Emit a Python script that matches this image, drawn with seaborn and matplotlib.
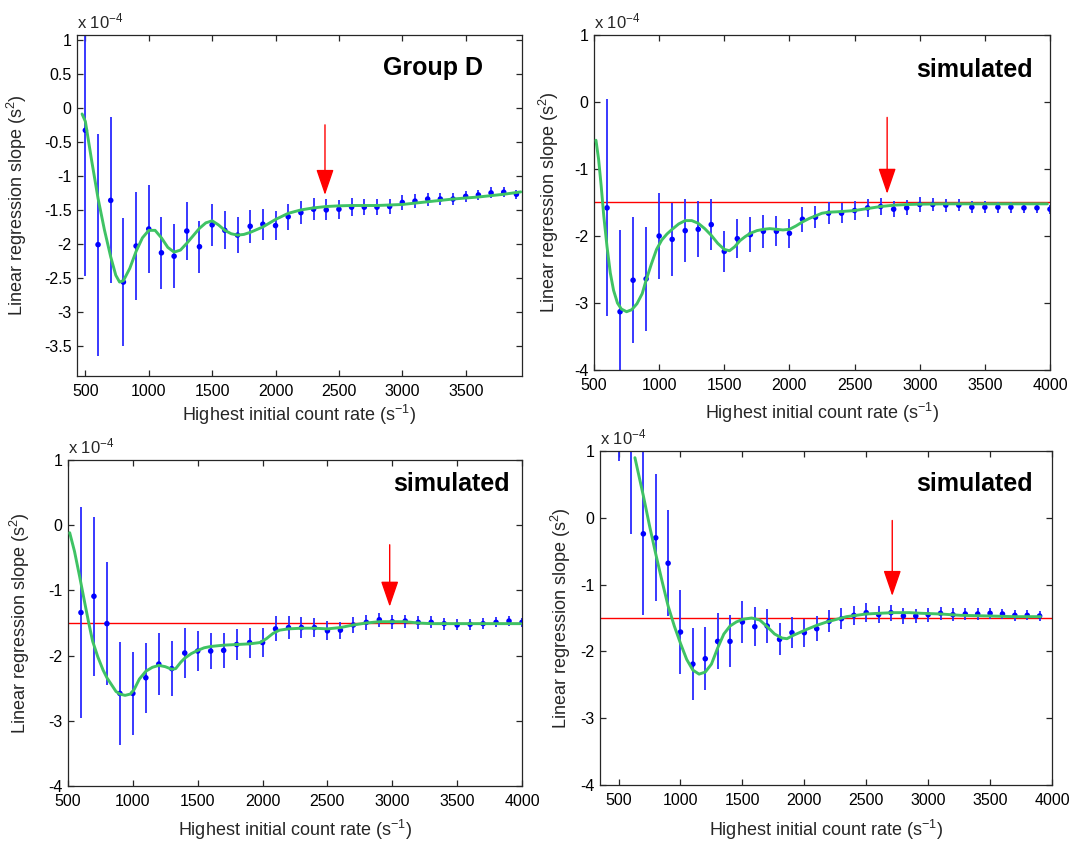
import matplotlib
matplotlib.use("Agg")
import matplotlib.pyplot as plt
from matplotlib.ticker import FuncFormatter
import seaborn as sns

# ---------------------------------------------------------------- data
# Group D (measured)
rate_a = [500, 600, 700, 800, 900, 1000, 1100, 1200, 1300, 1400,
          1500, 1600, 1700, 1800, 1900, 2000, 2100, 2200, 2300, 2400,
          2500, 2600, 2700, 2800, 2900, 3000, 3100, 3200, 3300, 3400,
          3500, 3600, 3700, 3800, 3900]
slope_a = [-0.33, -2.01, -1.36, -2.56, -2.03, -1.78, -2.13, -2.18, -1.81, -2.04,
           -1.72, -1.80, -1.87, -1.74, -1.71, -1.73, -1.60, -1.54, -1.49, -1.50,
           -1.49, -1.46, -1.46, -1.46, -1.45, -1.39, -1.37, -1.34, -1.34, -1.34,
           -1.30, -1.28, -1.25, -1.24, -1.27]
err_a = [2.14, 1.63, 1.22, 0.94, 0.79, 0.64, 0.53, 0.47, 0.42, 0.38,
         0.31, 0.28, 0.26, 0.245, 0.225, 0.215, 0.19, 0.17, 0.16, 0.155,
         0.14, 0.13, 0.12, 0.115, 0.11, 0.105, 0.10, 0.095, 0.09, 0.09,
         0.085, 0.08, 0.08, 0.075, 0.07]
fit_rate_a = [474, 500, 550, 600, 650, 700, 740, 770, 800, 850, 900, 950, 1000,
              1050, 1100, 1150, 1200, 1250, 1300, 1350, 1400, 1450, 1500, 1550,
              1600, 1650, 1700, 1750, 1800, 1850, 1900, 2000, 2100, 2200, 2300,
              2400, 2500, 2600, 2800, 3000, 3200, 3400, 3600, 3800, 3935]
fit_slope_a = [-0.09, -0.20, -0.78, -1.33, -1.79, -2.19, -2.46, -2.56, -2.54,
               -2.36, -2.11, -1.91, -1.80, -1.80, -1.91, -2.05, -2.12, -2.09,
               -1.99, -1.88, -1.77, -1.69, -1.66, -1.72, -1.80, -1.85, -1.87,
               -1.86, -1.83, -1.79, -1.75, -1.64, -1.55, -1.50, -1.47, -1.45,
               -1.44, -1.435, -1.435, -1.42, -1.38, -1.34, -1.31, -1.27, -1.235]

# simulated, top right
rate_b = [600, 700, 800, 900, 1000, 1100, 1200, 1300, 1400, 1500,
          1600, 1700, 1800, 1900, 2000, 2100, 2200, 2300, 2400, 2500,
          2600, 2700, 2800, 2900, 3000, 3100, 3200, 3300, 3400, 3500,
          3600, 3700, 3800, 3900, 4000]
slope_b = [-1.58, -3.13, -2.66, -2.64, -2.00, -2.05, -1.92, -1.90, -1.83, -2.23,
           -2.04, -1.98, -1.93, -1.93, -1.96, -1.75, -1.72, -1.66, -1.66, -1.62,
           -1.58, -1.56, -1.60, -1.58, -1.53, -1.53, -1.54, -1.54, -1.57, -1.57,
           -1.57, -1.57, -1.58, -1.58, -1.60]
err_b = [1.62, 1.22, 0.94, 0.78, 0.64, 0.54, 0.47, 0.42, 0.38, 0.31,
         0.29, 0.26, 0.245, 0.225, 0.215, 0.19, 0.165, 0.16, 0.15, 0.14,
         0.13, 0.12, 0.115, 0.11, 0.105, 0.10, 0.095, 0.09, 0.09, 0.085,
         0.08, 0.08, 0.075, 0.07, 0.07]
fit_rate_b = [515, 535, 555, 575, 600, 625, 650, 680, 710, 750, 790, 830, 870,
              900, 940, 980, 1020, 1060, 1100, 1150, 1200, 1250, 1300, 1350,
              1400, 1450, 1500, 1540, 1580, 1620, 1660, 1700, 1750, 1800, 1850,
              1900, 1950, 2000, 2050, 2100, 2150, 2200, 2250, 2300, 2400, 2500,
              2600, 2700, 2800, 2900, 3000, 3200, 3500, 3980]
fit_slope_b = [-0.57, -0.85, -1.25, -1.70, -2.16, -2.55, -2.81, -3.00, -3.09,
               -3.13, -3.10, -3.01, -2.86, -2.66, -2.42, -2.20, -2.06, -1.97,
               -1.90, -1.82, -1.77, -1.77, -1.81, -1.89, -1.99, -2.11, -2.20,
               -2.22, -2.16, -2.07, -2.01, -1.96, -1.92, -1.90, -1.89, -1.90,
               -1.91, -1.90, -1.85, -1.79, -1.74, -1.70, -1.66, -1.645, -1.635,
               -1.62, -1.59, -1.56, -1.54, -1.53, -1.525, -1.52, -1.52, -1.52]

# simulated, bottom left
rate_c = [600, 700, 800, 900, 1000, 1100, 1200, 1300, 1400, 1500,
          1600, 1700, 1800, 1900, 2000, 2100, 2200, 2300, 2400, 2500,
          2600, 2700, 2800, 2900, 3000, 3100, 3200, 3300, 3400, 3500,
          3600, 3700, 3800, 3900, 4000]
slope_c = [-1.34, -1.09, -1.51, -2.58, -2.58, -2.34, -2.13, -2.20, -1.96, -1.93,
           -1.93, -1.92, -1.83, -1.80, -1.80, -1.59, -1.57, -1.57, -1.57, -1.62,
           -1.61, -1.53, -1.49, -1.45, -1.48, -1.47, -1.49, -1.49, -1.51, -1.53,
           -1.52, -1.51, -1.49, -1.47, -1.49]
err_c = [1.62, 1.22, 0.94, 0.79, 0.64, 0.54, 0.48, 0.42, 0.38, 0.31,
         0.28, 0.27, 0.24, 0.23, 0.22, 0.19, 0.17, 0.16, 0.15, 0.145,
         0.13, 0.12, 0.115, 0.11, 0.105, 0.10, 0.095, 0.09, 0.09, 0.085,
         0.08, 0.08, 0.075, 0.07, 0.07]
fit_rate_c = [513, 550, 590, 630, 660, 690, 730, 770, 800, 840, 870, 900, 940,
              980, 1010, 1050, 1100, 1150, 1200, 1250, 1300, 1330, 1370, 1400,
              1450, 1500, 1550, 1600, 1700, 1800, 1900, 1980, 2030, 2080, 2130,
              2200, 2300, 2400, 2500, 2600, 2700, 2800, 2900, 3000, 3100, 3200,
              3300, 3500, 3700, 3990]
fit_slope_c = [-0.115, -0.40, -0.79, -1.20, -1.50, -1.78, -2.02, -2.22, -2.34,
               -2.46, -2.55, -2.59, -2.61, -2.59, -2.52, -2.36, -2.24, -2.18,
               -2.15, -2.17, -2.21, -2.20, -2.10, -2.04, -1.97, -1.92, -1.88,
               -1.86, -1.84, -1.83, -1.82, -1.80, -1.74, -1.66, -1.61, -1.59,
               -1.58, -1.58, -1.59, -1.57, -1.53, -1.50, -1.48, -1.48, -1.48,
               -1.50, -1.51, -1.51, -1.51, -1.51]

# simulated, bottom right
rate_d = [500, 600, 700, 800, 900, 1000, 1100, 1200, 1300, 1400,
          1500, 1600, 1700, 1800, 1900, 2000, 2100, 2200, 2300, 2400,
          2500, 2600, 2700, 2800, 2900, 3000, 3100, 3200, 3300, 3400,
          3500, 3600, 3700, 3800, 3900]
slope_d = [2.99, 1.38, -0.24, -0.30, -0.68, -1.71, -2.19, -2.11, -1.85, -1.85,
           -1.56, -1.63, -1.62, -1.82, -1.72, -1.72, -1.66, -1.55, -1.51, -1.46,
           -1.42, -1.45, -1.42, -1.47, -1.47, -1.45, -1.43, -1.45, -1.44, -1.44,
           -1.43, -1.44, -1.46, -1.46, -1.47]
err_d = [2.14, 1.62, 1.22, 0.95, 0.79, 0.63, 0.54, 0.47, 0.42, 0.39,
         0.31, 0.29, 0.26, 0.24, 0.23, 0.21, 0.19, 0.165, 0.16, 0.14,
         0.145, 0.13, 0.12, 0.115, 0.11, 0.105, 0.10, 0.095, 0.09, 0.09,
         0.085, 0.08, 0.08, 0.075, 0.07]
fit_rate_d = [632, 700, 750, 800, 850, 900, 950, 1000, 1050, 1100, 1150, 1200,
              1250, 1300, 1350, 1400, 1450, 1500, 1575, 1640, 1700, 1760, 1820,
              1860, 1910, 1960, 2020, 2100, 2180, 2260, 2340, 2420, 2500, 2600,
              2720, 2850, 2950, 3100, 3260, 3500, 3700, 3907]
fit_slope_d = [0.90, 0.33, -0.12, -0.54, -0.94, -1.32, -1.62, -1.88, -2.12,
               -2.28, -2.34, -2.31, -2.19, -1.95, -1.74, -1.62, -1.56, -1.52,
               -1.50, -1.53, -1.63, -1.74, -1.80, -1.81, -1.76, -1.72, -1.67,
               -1.61, -1.56, -1.52, -1.48, -1.46, -1.44, -1.43, -1.42, -1.42,
               -1.43, -1.44, -1.46, -1.47, -1.48, -1.48]

reference_slope = -1.5          # expected slope of the simulated sets
arrow_rate = [2390, 2750, 2980, 2710]
panel_titles = ["Group D", "simulated", "simulated", "simulated"]

# ---------------------------------------------------------------- style
sns.set_theme(style="ticks")
plt.rcParams["font.family"] = ["Liberation Sans", "DejaVu Sans"]
plt.rcParams["mathtext.default"] = "regular"
plt.rcParams["axes.edgecolor"] = "#262626"
plt.rcParams["axes.linewidth"] = 0.9

BLUE = "#0000ff"
BAR_BLUE = "#2a2aff"
GREEN = "#3fc364"
RED = "#ff0000"
TICK_FS = 11.5
LABEL_FS = 13

fig = plt.figure(figsize=(10.73, 8.44), dpi=100)
fig.patch.set_facecolor("white")

W, H = 1073.0, 844.0
# axes boxes in pixels: left, top, right, bottom
boxes = [(77, 35, 522, 376), (594, 35, 1050, 370),
         (68, 460, 522, 786), (600, 451, 1052, 785)]
limits = [((434, 3944), (-3.94, 1.07)), ((500, 4000), (-4, 1)),
          ((500, 4000), (-4, 1)), ((350, 4000), (-4, 1))]
yticks = [[-3.5, -3, -2.5, -2, -1.5, -1, -0.5, 0, 0.5, 1],
          [-4, -3, -2, -1, 0, 1], [-4, -3, -2, -1, 0, 1], [-4, -3, -2, -1, 0, 1]]
xticks = [[500, 1000, 1500, 2000, 2500, 3000, 3500],
          [500, 1000, 1500, 2000, 2500, 3000, 3500, 4000],
          [500, 1000, 1500, 2000, 2500, 3000, 3500, 4000],
          [500, 1000, 1500, 2000, 2500, 3000, 3500, 4000]]
arrow_span = [(-0.25, -1.28), (-0.23, -1.37), (-0.30, -1.25), (-0.04, -1.17)]
title_pos = [(0.912, 0.903), (0.963, 0.896), (0.974, 0.926), (0.958, 0.901)]
ylabel_x = [-0.108, -0.072, -0.079, -0.060]
xlabel_y = [-0.080, -0.092, -0.099, -0.100]

panels = [
    (rate_a, slope_a, err_a, fit_rate_a, fit_slope_a, False),
    (rate_b, slope_b, err_b, fit_rate_b, fit_slope_b, True),
    (rate_c, slope_c, err_c, fit_rate_c, fit_slope_c, True),
    (rate_d, slope_d, err_d, fit_rate_d, fit_slope_d, True),
]

for i, (rx, sy, er, fx, fy, show_ref) in enumerate(panels):
    l, t, r, b = boxes[i]
    ax = fig.add_axes([l / W, 1 - b / H, (r - l) / W, (b - t) / H])
    ax.set_facecolor("white")

    if show_ref:
        ax.axhline(reference_slope, color=RED, lw=1.0, zorder=1)

    ax.errorbar(rx, sy, yerr=er, fmt="none", ecolor=BAR_BLUE,
                elinewidth=1.3, capsize=0, zorder=2)
    sns.scatterplot(x=rx, y=sy, ax=ax, color=BLUE, s=16, marker="o",
                    edgecolor="none", zorder=3)
    sns.lineplot(x=fx, y=fy, ax=ax, color=GREEN, lw=2.1, sort=False,
                 estimator=None, zorder=4)

    y0, y1 = arrow_span[i]
    ax.annotate("", xy=(arrow_rate[i], y1), xytext=(arrow_rate[i], y0),
                arrowprops=dict(arrowstyle="-|>,head_width=0.55,head_length=1.6",
                                color=RED, lw=1.0, shrinkA=0, shrinkB=0,
                                mutation_scale=10), zorder=5)

    (xl, yl) = limits[i]
    ax.set_xlim(*xl)
    ax.set_ylim(*yl)
    ax.set_xticks(xticks[i])
    ax.set_yticks(yticks[i])
    ax.yaxis.set_major_formatter(FuncFormatter(lambda v, _: "%g" % v))
    ax.xaxis.set_major_formatter(FuncFormatter(lambda v, _: "%d" % v))
    ax.tick_params(direction="in", top=True, right=True, length=4,
                   width=0.9, color="#262626", labelsize=TICK_FS,
                   labelcolor="black")
    ax.tick_params(axis="x", pad=5.5)
    ax.tick_params(axis="y", pad=4)
    for sp in ax.spines.values():
        sp.set_visible(True)

    ax.set_ylabel(r"Linear regression slope (s$^{2}$)", fontsize=LABEL_FS)
    ax.yaxis.set_label_coords(ylabel_x[i], 0.5)
    ax.set_xlabel(r"Highest initial count rate (s$^{-1}$)", fontsize=LABEL_FS)
    ax.xaxis.set_label_coords(0.5, xlabel_y[i])

    ax.text(0.0, 1.012, r"x 10$^{-4}$", transform=ax.transAxes,
            ha="left", va="bottom", fontsize=12)
    tx, ty = title_pos[i]
    ax.text(tx, ty, panel_titles[i], transform=ax.transAxes, ha="right",
            va="center", fontsize=18, fontweight="bold", color="black")

fig.savefig("out.png", dpi=100, facecolor="white")
